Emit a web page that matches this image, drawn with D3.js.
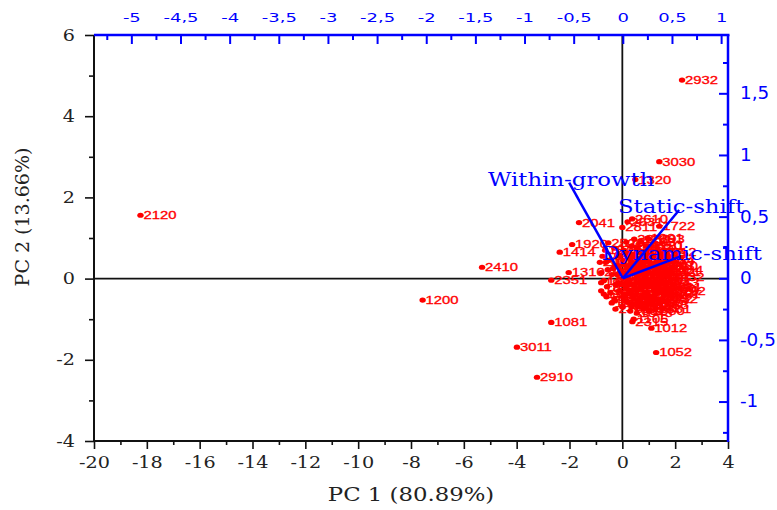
<!DOCTYPE html>
<html>
<head>
<meta charset="utf-8">
<script src="https://cdn.jsdelivr.net/npm/d3@7"></script>
<style>
  body { margin: 0; background: #fff; }
</style>
</head>
<body>
<div id="chart"></div>
<script>
// sample scores (PC 1, PC 2) with their ids
const sampleIds = [
  "2120", "1200", "2410", "3011", "2910", "2351", "1081", "1414", "1310", "1920", "2041",
  "2932", "3030", "1320", "2610", "2631", "2811", "1722", "2230", "2393", "1105", "2315",
  "1012", "1052", "2751", "2520", "2034", "1029",
  "1011", "1021", "1032", "1043", "1050", "1061", "1072", "1090", "1101", "1112",
  "1123", "1130", "1141", "1152", "1163", "1170", "1181", "1192", "1203", "1210",
  "1221", "1232", "1243", "1250", "1261", "1272", "1283", "1290", "1301", "1312",
  "1323", "1330", "1341", "1352", "1363", "1370", "1381", "1392", "1403", "1410",
  "1421", "1432", "1443", "1450", "1461", "1472", "1483", "1490", "1501", "1512",
  "1523", "1530", "1541", "1552", "1563", "1570", "1581", "1592", "1603", "1610",
  "1621", "1632", "1643", "1650", "1661", "1672", "1683", "1690", "1701", "1712",
  "1723", "1730", "1741", "1752", "1763", "1770", "1781", "1792", "1803", "1810",
  "1821", "1832", "1843", "1850", "1861", "1872", "1883", "1890", "1901", "1912",
  "1930", "1941", "1952", "1963", "2001", "2012",
  "2101", "2112", "2123", "2130", "2141", "2152", "2163", "2170", "2181", "2192",
  "2203", "2214", "2221", "2232", "2243", "2250", "2261", "2272", "2283", "2290",
  "2301", "2312", "2323", "2330", "2341", "2352", "2363", "2370", "2381", "2392",
  "2403", "2414", "2421", "2432", "2443"
]
const pc1Scores = [
  -18.24, -7.56, -5.31, -3.99, -3.23, -2.69, -2.69, -2.37, -2.03, -1.90, -1.64,
  2.26, 1.40, 0.49, 0.37, 0.20, 0.00, 1.40, 0.45, 1.00, 0.43, 0.38,
  1.10, 1.28, -0.26, -0.53, 1.70, 1.55,
  -0.75, -0.62, -0.55, -0.70, -0.58, -0.45, -0.30, -0.40, -0.20, -0.10,
  0.05, 0.20, 0.35, 0.55, 0.70, 0.85, 1.05, 1.20, 1.35, 1.50,
  1.62, 1.75, 1.55, 1.45, 1.60, 1.30, 1.15, 0.95, 0.80, 0.60,
  0.40, 0.20, 0.05, -0.10, -0.25, 0.00, 0.10, 0.25, 0.40, 0.55,
  0.70, 0.85, 1.00, 1.15, 1.25, 1.05, 0.90, 0.75, 0.50, 0.30,
  0.15, 0.35, 0.60, 0.80, 1.00, 0.20, -0.05, 0.45, 0.65, 0.85,
  1.20, 1.40, 1.10, 0.90, 0.50, 0.30, 0.70, 0.95, 1.35, 0.10,
  -0.15, -0.35, -0.50, 0.25, 0.75, 1.30, 1.65, 1.80, -0.60, -0.40,
  0.00, 0.30, 0.55, 1.00, 1.25, -0.65, -0.30, 0.15, 0.95, 1.45,
  -0.80, -0.80, -0.70, -0.28, -0.85, -0.80,
  0.05, 0.15, 0.25, 0.35, 0.45, 0.55, 0.65, 0.75, 0.85, 0.95,
  1.05, 1.15, 1.25, 1.35, 1.45, 0.10, 0.30, 0.60, 0.80, 1.10,
  1.20, 0.40, 0.20, 0.65, 0.90, 1.50, -0.05, -0.20, 0.50, 1.00,
  0.70, 1.40, 0.05, 0.35, 1.10
]
const pc2Scores = [
  1.56, -0.53, 0.28, -1.69, -2.43, -0.04, -1.08, 0.65, 0.15, 0.84, 1.38,
  4.89, 2.88, 2.44, 1.47, 1.40, 1.26, 1.29, 0.97, 0.97, -1.00, -1.06,
  -1.22, -1.82, -0.75, 0.88, 0.20, -0.30,
  0.55, 0.40, 0.22, -0.05, -0.20, -0.35, -0.50, 0.10, 0.30, 0.55,
  0.70, 0.62, 0.80, 0.75, 0.90, 0.65, 0.80, 0.55, 0.40, 0.30,
  0.15, 0.05, -0.10, -0.25, -0.38, -0.50, -0.65, -0.60, -0.72, -0.68,
  -0.62, -0.58, -0.45, -0.30, -0.15, 0.00, 0.10, -0.05, 0.15, 0.05,
  0.20, 0.10, 0.25, 0.10, -0.05, -0.20, -0.35, -0.45, -0.40, -0.30,
  -0.20, 0.40, 0.45, 0.40, 0.45, 0.30, 0.20, -0.15, -0.25, -0.15,
  -0.30, 0.15, 0.60, 0.80, 0.55, 0.15, -0.05, 0.00, -0.20, -0.40,
  -0.10, 0.25, 0.45, 0.50, 0.60, 0.30, -0.20, -0.30, -0.45, -0.60,
  -0.70, -0.80, -0.85, -0.80, -0.75, 0.70, 0.75, 0.90, 1.00, 0.65,
  -0.10, -0.30, -0.38, -0.55, 0.40, 0.15,
  0.35, -0.10, 0.25, -0.15, 0.35, -0.30, 0.30, -0.20, 0.25, -0.45,
  0.15, -0.45, 0.20, -0.35, 0.05, -0.55, 0.60, -0.55, 0.55, 0.35,
  -0.15, -0.45, 0.05, 0.10, -0.05, -0.50, -0.15, 0.10, 0.25, 0.65,
  -0.60, 0.45, 0.45, -0.70, -0.55
]

// variable loadings
const variableNames = ["Within-growth", "Static-shift", "Dynamic-shift"]
const loading1 = [-0.546, 0.573, 0.58]
const loading2 = [0.775, 0.554, 0.175]

// tick values
const pc1Ticks = [-20, -18, -16, -14, -12, -10, -8, -6, -4, -2, 0, 2, 4]
const pc1Minor = [-19, -17, -15, -13, -11, -9, -7, -5, -3, -1, 1, 3]
const pc2Ticks = [-4, -2, 0, 2, 4, 6]
const pc2Minor = [-3, -1, 1, 3, 5]
const load1Ticks = [-5, -4.5, -4, -3.5, -3, -2.5, -2, -1.5, -1, -0.5, 0, 0.5, 1]
const load1Minor = [-5.25, -4.75, -4.25, -3.75, -3.25, -2.75, -2.25, -1.75, -1.25, -0.75, -0.25, 0.25, 0.75]
const load2Ticks = [-1, -0.5, 0, 0.5, 1, 1.5]
const load2Minor = [-1.25, -0.75, -0.25, 0.25, 0.75, 1.25, 1.75]

function drawBiplot() {
  const width = 777
  const height = 510
  const left = 94, right = 728, top = 35, bottom = 441
  const serif = "'DejaVu Serif', serif"
  const sans = "'DejaVu Sans', sans-serif"
  const blue = "#0000ff"
  const sx = 1.2   // horizontal stretch of the serif texts

  const svg = d3.select("#chart")
    .append("svg")
      .attr("width", width)
      .attr("height", height)

  const xScale = d3.scaleLinear().domain([-20, 4]).range([left, right])
  const yScale = d3.scaleLinear().domain([-4, 6]).range([bottom, top])
  const xLoad = d3.scaleLinear().domain([-5.38, 1.07]).range([left, right])
  const yLoad = d3.scaleLinear().domain([-1.32, 1.973]).range([bottom, top])

  const fmt = d => String(d).replace(".", ",")

  // zero lines
  svg.append("line")
    .attr("x1", xScale(0)).attr("x2", xScale(0))
    .attr("y1", top).attr("y2", bottom)
    .attr("stroke", "#111").attr("stroke-width", 1.8)
  svg.append("line")
    .attr("x1", left).attr("x2", right)
    .attr("y1", yScale(0)).attr("y2", yScale(0))
    .attr("stroke", "#111").attr("stroke-width", 1.8)

  // left axis (black)
  const yAxis = svg.append("g")
    .attr("transform", `translate(${left},0)`)
    .call(d3.axisLeft(yScale).tickValues(pc2Ticks).tickSizeOuter(0).tickSize(9).tickFormat(fmt))
  yAxis.select(".domain").remove()
  yAxis.selectAll("line").attr("stroke", "#111").attr("stroke-width", 1.6)
  yAxis.selectAll("text")
    .attr("x", -19 / sx)
    .attr("transform", `scale(${sx},1)`)
    .attr("fill", "#222")
    .style("font-family", serif)
    .style("font-size", "16px")
  svg.append("g")
    .attr("transform", `translate(${left},0)`)
    .call(d3.axisLeft(yScale).tickValues(pc2Minor).tickSize(5).tickFormat(""))
    .call(g => g.select(".domain").remove())
    .selectAll("line").attr("stroke", "#111").attr("stroke-width", 1.6)

  // bottom axis (black)
  const xAxis = svg.append("g")
    .attr("transform", `translate(0,${bottom})`)
    .call(d3.axisBottom(xScale).tickValues(pc1Ticks).tickSizeOuter(0).tickSize(8).tickFormat(fmt))
  xAxis.select(".domain").remove()
  xAxis.selectAll("line").attr("stroke", "#111").attr("stroke-width", 1.6)
  xAxis.selectAll("text")
    .attr("y", 16)
    .attr("transform", `scale(${sx},1)`)
    .attr("fill", "#222")
    .style("font-family", serif)
    .style("font-size", "16px")
  svg.append("g")
    .attr("transform", `translate(0,${bottom})`)
    .call(d3.axisBottom(xScale).tickValues(pc1Minor).tickSize(4).tickFormat(""))
    .call(g => g.select(".domain").remove())
    .selectAll("line").attr("stroke", "#111").attr("stroke-width", 1.6)

  // top axis (blue, loadings)
  const topAxis = svg.append("g")
    .attr("transform", `translate(0,${top})`)
    .call(d3.axisTop(xLoad).tickValues(load1Ticks).tickSizeOuter(0).tickSizeInner(-9).tickPadding(13).tickFormat(fmt))
  topAxis.select(".domain").remove()
  topAxis.selectAll("line").attr("stroke", blue).attr("stroke-width", 2)
  topAxis.selectAll("text")
    .attr("transform", "scale(1.5,1)")
    .attr("fill", blue)
    .style("font-family", sans)
    .style("font-size", "12px")
  svg.append("g")
    .attr("transform", `translate(0,${top})`)
    .call(d3.axisTop(xLoad).tickValues(load1Minor).tickSizeInner(-5).tickSizeOuter(0).tickFormat(""))
    .call(g => g.select(".domain").remove())
    .selectAll("line").attr("stroke", blue).attr("stroke-width", 2)

  // right axis (blue, loadings)
  const rightAxis = svg.append("g")
    .attr("transform", `translate(${right},0)`)
    .call(d3.axisRight(yLoad).tickValues(load2Ticks).tickSizeOuter(0).tickSizeInner(-9).tickPadding(12).tickFormat(fmt))
  rightAxis.select(".domain").remove()
  rightAxis.selectAll("line").attr("stroke", blue).attr("stroke-width", 2)
  rightAxis.selectAll("text")
    .attr("x", 12 / 1.08)
    .attr("transform", "scale(1.08,1)")
    .attr("fill", blue)
    .style("font-family", sans)
    .style("font-size", "17px")
  svg.append("g")
    .attr("transform", `translate(${right},0)`)
    .call(d3.axisRight(yLoad).tickValues(load2Minor).tickSizeInner(-5).tickSizeOuter(0).tickFormat(""))
    .call(g => g.select(".domain").remove())
    .selectAll("line").attr("stroke", blue).attr("stroke-width", 2)

  // frame lines
  svg.append("line")
    .attr("x1", left).attr("x2", left).attr("y1", top).attr("y2", bottom + 1)
    .attr("stroke", "#111").attr("stroke-width", 2)
  svg.append("line")
    .attr("x1", left - 1).attr("x2", right).attr("y1", bottom).attr("y2", bottom)
    .attr("stroke", "#111").attr("stroke-width", 2)
  svg.append("line")
    .attr("x1", left).attr("x2", right + 1.5).attr("y1", top).attr("y2", top)
    .attr("stroke", blue).attr("stroke-width", 2.5)
  svg.append("line")
    .attr("x1", right).attr("x2", right).attr("y1", top).attr("y2", bottom + 1)
    .attr("stroke", blue).attr("stroke-width", 2.5)

  // sample points and ids
  const samples = sampleIds.map((id, i) => ({ id: id, pc1: pc1Scores[i], pc2: pc2Scores[i] }))

  const pts = svg.append("g")
    .selectAll("g")
    .data(samples)
    .join("g")
      .attr("transform", d => `translate(${xScale(d.pc1)},${yScale(d.pc2)})`)

  pts.append("ellipse")
    .attr("rx", 3.2)
    .attr("ry", 2.6)
    .attr("fill", "#ff0000")

  pts.append("text")
    .attr("x", 3 / 1.35)
    .attr("dy", "0.36em")
    .attr("transform", "scale(1.35,1)")
    .attr("fill", "#ff0000")
    .attr("stroke", "#ff0000")
    .attr("stroke-width", 0.3)
    .style("font-family", "'Liberation Sans', Arial, sans-serif")
    .style("font-size", "11px")
    .text(d => d.id)

  // loading vectors
  const vectors = variableNames.map((name, i) => ({ name: name, l1: loading1[i], l2: loading2[i] }))

  svg.append("g")
    .selectAll("line")
    .data(vectors)
    .join("line")
      .attr("x1", xLoad(0))
      .attr("y1", yLoad(0))
      .attr("x2", d => xLoad(d.l1))
      .attr("y2", d => yLoad(d.l2))
      .attr("stroke", blue)
      .attr("stroke-width", 2.5)

  svg.append("g")
    .selectAll("text")
    .data(vectors)
    .join("text")
      .attr("transform", d => `translate(${xLoad(d.l1) + 2},${yLoad(d.l2) + 3}) scale(${sx},1)`)
      .attr("text-anchor", "middle")
      .attr("fill", blue)
      .style("font-family", serif)
      .style("font-size", "19px")
      .text(d => d.name)

  // axis titles
  svg.append("text")
    .attr("transform", `translate(${(left + right) / 2},${501}) scale(${sx},1)`)
    .attr("text-anchor", "middle")
    .attr("fill", "#222")
    .style("font-family", serif)
    .style("font-size", "19px")
    .text("PC 1 (80.89%)")

  svg.append("text")
    .attr("transform", `translate(29,217) rotate(-90)`)
    .attr("text-anchor", "middle")
    .attr("fill", "#222")
    .style("font-family", serif)
    .style("font-size", "19px")
    .text("PC 2 (13.66%)")
}
drawBiplot()
</script>
</body>
</html>
